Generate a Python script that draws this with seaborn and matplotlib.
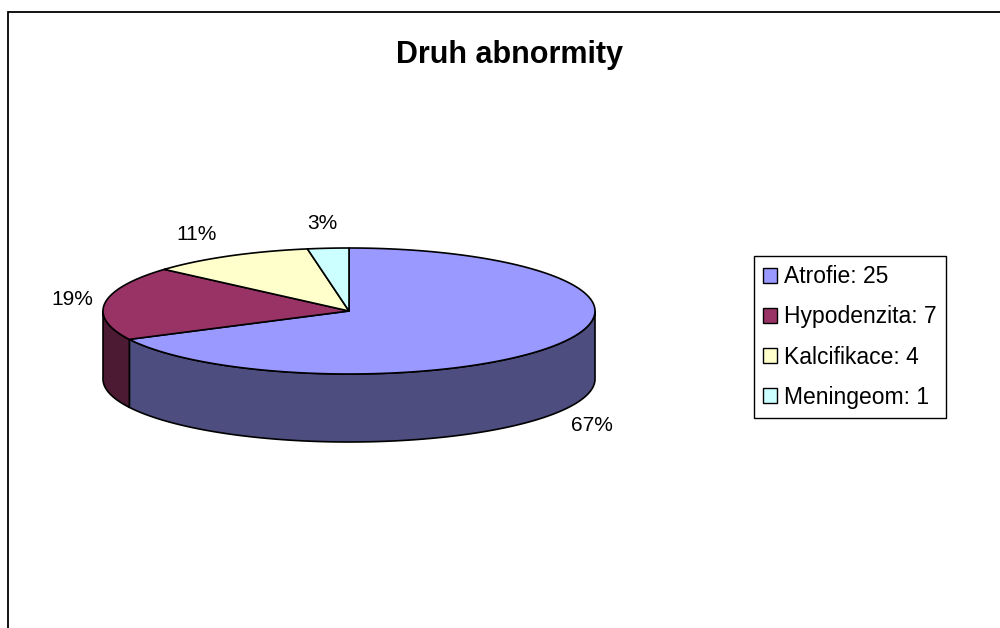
import numpy as np
import matplotlib
matplotlib.use("Agg")
import matplotlib.pyplot as plt
from matplotlib.patches import Polygon, Patch
from matplotlib.colors import to_rgb
import seaborn as sns

# ---- data ----
title = "Druh abnormity"
categories = ["Atrofie", "Hypodenzita", "Kalcifikace", "Meningeom"]
counts = [25, 7, 4, 1]
pct_labels = ["67%", "19%", "11%", "3%"]
colors = ["#9999FF", "#993366", "#FFFFCC", "#CCFFFF"]

sns.set_theme(style="white")
plt.rcParams['font.family'] = ['Liberation Sans', 'DejaVu Sans']
plt.rcParams['text.color'] = 'black'
palette = sns.color_palette(colors)

fig = plt.figure(figsize=(10, 6.28), dpi=100)
ax = fig.add_axes([0, 0, 1, 1])
ax.set_xlim(0, 1000)
ax.set_ylim(628, 0)
ax.axis('off')

# chart frame (clipped on right/bottom like the original export)
ax.plot([8, 8, 1000], [628, 12, 12], color='black', lw=1.3, solid_joinstyle='miter')

ax.text(510, 55, title, ha='center', va='center', fontsize=22, fontweight='bold')

# ---- 3D-ish pie: ellipse geometry ----
cx, cy, rx, ry, depth = 349, 311, 246, 63, 68


def rim(t):
    t = np.radians(t)
    return cx + rx * np.cos(t), cy - ry * np.sin(t)


vals = np.array(counts, dtype=float)
fracs = vals / vals.sum()
ends = 90 - 360 * np.cumsum(fracs)      # clockwise from 12 o'clock
starts = ends + 360 * fracs

# side walls (only the front half is visible)
for s, e, c in zip(starts, ends, palette):
    lo, hi = max(e, -180), min(s, 0)
    if lo < hi:
        t = np.linspace(lo, hi, 150)
        x, y = rim(t)
        pts = np.column_stack([np.r_[x, x[::-1]], np.r_[y, y[::-1] + depth]])
        ax.add_patch(Polygon(pts, closed=True, fc=np.array(to_rgb(c)) * 0.5,
                             ec='black', lw=1.2, joinstyle='round'))

# top faces
for s, e, c in zip(starts, ends, palette):
    t = np.linspace(s, e, 200)
    x, y = rim(t)
    pts = np.column_stack([np.r_[cx, x], np.r_[cy, y]])
    ax.add_patch(Polygon(pts, closed=True, fc=c, ec='black', lw=1.2, joinstyle='round'))

# percentage labels, just outside the rim
for s, e, lab in zip(starts, ends, pct_labels):
    m = np.radians((s + e) / 2)
    lx = cx + rx * np.cos(m) + 33 * np.clip(2 * np.cos(m), -1, 1)
    ly = cy - (ry + 25) * np.sin(m) + (depth if np.sin(m) < 0 else 0)
    ax.text(lx, ly, lab, ha='center', va='center', fontsize=15)

# legend
handles = [Patch(fc=c, ec='black', lw=1) for c in palette]
labels = [f"{cat}: {n}" for cat, n in zip(categories, counts)]
leg = ax.legend(handles, labels, loc='upper left',
                bbox_to_anchor=(754 / 1000, 1 - 256 / 628),
                bbox_transform=fig.transFigure, borderaxespad=0,
                fontsize=16.5, frameon=True, fancybox=False, framealpha=1,
                edgecolor='black', handlelength=0.62, handleheight=0.62,
                handletextpad=0.3, labelspacing=0.75, borderpad=0.4)
leg.get_frame().set_linewidth(1.0)
for txt in leg.get_texts():
    txt.set_color('black')

fig.savefig('out.png', dpi=100)
